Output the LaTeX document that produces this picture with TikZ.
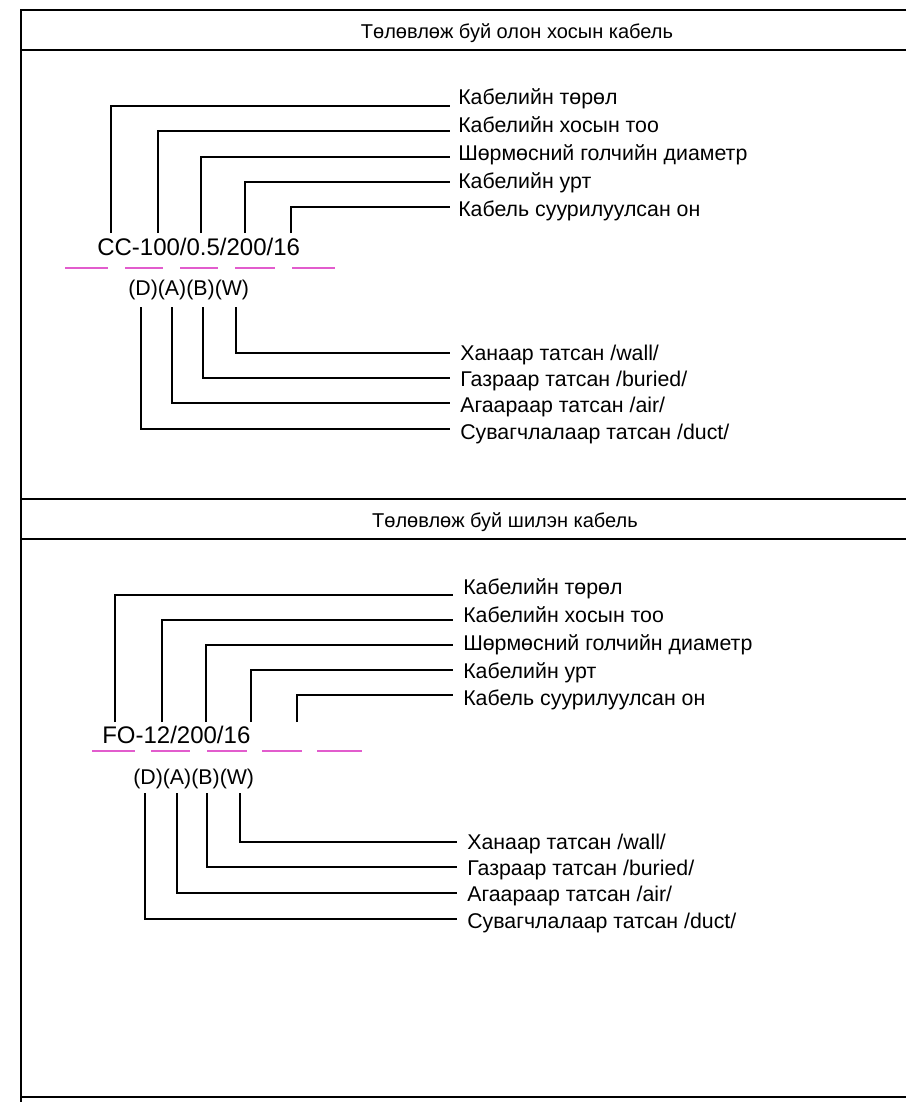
\documentclass[tikz,border=0pt]{standalone}
\usepackage{fontspec}
\setmainfont{Liberation Sans}
\usetikzlibrary{calc}
\definecolor{cutpink}{RGB}{226,92,205}
\newcommand{\lblfont}{\fontsize{16}{19}\selectfont}
\newcommand{\headfont}{\fontsize{15}{18}\selectfont}
\newcommand{\codefont}{\fontsize{18}{21}\selectfont}
\tikzset{frame/.style={line width=1.3pt},
         leader/.style={line width=1.2pt},
         cut/.style={cutpink, line width=1.2pt},
         lbl/.style={anchor=base west, inner sep=0pt, font=\lblfont},
         code/.style={anchor=base west, inner sep=0pt, font=\codefont},
         head/.style={anchor=base, inner sep=0pt, font=\headfont}}

\begin{document}
\begin{tikzpicture}[x=0.75pt, y=-0.75pt]
\useasboundingbox (0,0) rectangle (906,1102);

\draw[frame] (906,10) -- (21,10) -- (21,1102);
\draw[frame] (21,50) -- (906,50);
\draw[frame] (21,499) -- (906,499);
\draw[frame] (21,539) -- (906,539);
\draw[frame] (21,1097) -- (906,1097);

\node[head] (h1) at (517,39) {Төлөвлөж буй олон хосын кабель};
\node[head] (h2) at (505,527) {Төлөвлөж буй шилэн кабель};

\node[code] (cc) at (97,255) {CC-100/0.5/200/16};
\node[lbl]  (cs) at (128,295) {(D)(A)(B)(W)};

\node[lbl] (l1) at (458,105) {Кабелийн төрөл};
\node[lbl] (l2) at (458,133) {Кабелийн хосын тоо};
\node[lbl] (l3) at (458,161) {Шөрмөсний голчийн диаметр};
\node[lbl] (l4) at (458,189) {Кабелийн урт};
\node[lbl] (l5) at (458,216) {Кабель суурилуулсан он};
\node[lbl] (w1) at (460,360) {Ханаар татсан /wall/};
\node[lbl] (b1) at (460,386) {Газраар татсан /buried/};
\node[lbl] (a1) at (460,412) {Агаараар татсан /air/};
\node[lbl] (d1) at (460,439) {Сувагчлалаар татсан /duct/};

\coordinate (e1) at (450,106);
\coordinate (e2) at (450,131);
\coordinate (e3) at (450,157);
\coordinate (e4) at (450,182);
\coordinate (e5) at (450,207);
\coordinate (k1) at (111,233);
\coordinate (k2) at (158,233);
\coordinate (k3) at (201,233);
\coordinate (k4) at (245,233);
\coordinate (k5) at (291,233);
\draw[leader] (k1) |- (e1);
\draw[leader] (k2) |- (e2);
\draw[leader] (k3) |- (e3);
\draw[leader] (k4) |- (e4);
\draw[leader] (k5) |- (e5);

\coordinate (ew) at (450,353);
\coordinate (eb) at (450,378);
\coordinate (ea) at (450,403);
\coordinate (ed) at (450,429);
\coordinate (sd) at (141,307);
\coordinate (sa) at (172,307);
\coordinate (sb) at (203,307);
\coordinate (sw) at (236,307);
\draw[leader] (sw) |- (ew);
\draw[leader] (sb) |- (eb);
\draw[leader] (sa) |- (ea);
\draw[leader] (sd) |- (ed);

\draw[cut] (65,268) -- (108,268);
\draw[cut] (125,268) -- (163,268);
\draw[cut] (180,268) -- (218,268);
\draw[cut] (235,268) -- (275,268);
\draw[cut] (292,268) -- (335,268);

\node[code] (fo) at (102,743) {FO-12/200/16};
\node[lbl]  (fs) at (133,784) {(D)(A)(B)(W)};

\node[lbl] (fl1) at (463,594) {Кабелийн төрөл};
\node[lbl] (fl2) at (463,622) {Кабелийн хосын тоо};
\node[lbl] (fl3) at (463,650) {Шөрмөсний голчийн диаметр};
\node[lbl] (fl4) at (463,678) {Кабелийн урт};
\node[lbl] (fl5) at (463,705) {Кабель суурилуулсан он};
\node[lbl] (fw1) at (467,849) {Ханаар татсан /wall/};
\node[lbl] (fb1) at (467,875) {Газраар татсан /buried/};
\node[lbl] (fa1) at (467,901) {Агаараар татсан /air/};
\node[lbl] (fd1) at (467,928) {Сувагчлалаар татсан /duct/};

\coordinate (fe1) at (453,595);
\coordinate (fe2) at (453,620);
\coordinate (fe3) at (453,645);
\coordinate (fe4) at (453,670);
\coordinate (fe5) at (453,695);
\coordinate (fk1) at (115,722);
\coordinate (fk2) at (162,722);
\coordinate (fk3) at (206,722);
\coordinate (fk4) at (251,722);
\coordinate (fk5) at (297,722);
\draw[leader] (fk1) |- (fe1);
\draw[leader] (fk2) |- (fe2);
\draw[leader] (fk3) |- (fe3);
\draw[leader] (fk4) |- (fe4);
\draw[leader] (fk5) |- (fe5);

\coordinate (few) at (457,842);
\coordinate (feb) at (457,867);
\coordinate (fea) at (457,893);
\coordinate (fed) at (457,919);
\coordinate (fsd) at (145,793);
\coordinate (fsa) at (177,793);
\coordinate (fsb) at (207,793);
\coordinate (fsw) at (240,793);
\draw[leader] (fsw) |- (few);
\draw[leader] (fsb) |- (feb);
\draw[leader] (fsa) |- (fea);
\draw[leader] (fsd) |- (fed);

\draw[cut] (92,751) -- (135,751);
\draw[cut] (151,751) -- (190,751);
\draw[cut] (207,751) -- (247,751);
\draw[cut] (262,751) -- (302,751);
\draw[cut] (317,751) -- (362,751);
\end{tikzpicture}
\end{document}
